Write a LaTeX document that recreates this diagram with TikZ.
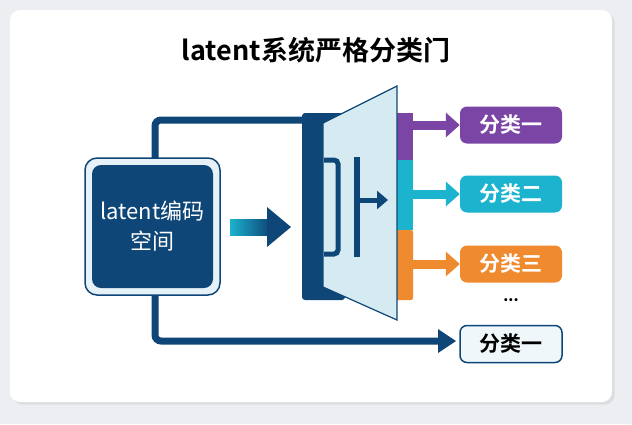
\documentclass[tikz,border=0pt]{standalone}
\usepackage{fontspec}
\setmainfont{Noto Sans CJK SC}
\newfontfamily\cjkbold{Noto Sans CJK SC Bold}
\usetikzlibrary{arrows.meta,shadows}
\definecolor{navy}{HTML}{0E4677}
\definecolor{pane}{HTML}{D6EAF2}
\definecolor{purp}{HTML}{7B45A6}
\definecolor{cyanc}{HTML}{1BB3CE}
\definecolor{orng}{HTML}{F08A2E}
\definecolor{bggray}{HTML}{ECEEF1}
\begin{document}
\begin{tikzpicture}[x=1pt,y=-1pt,
    cls/.style={rounded corners=7pt, minimum width=102pt, minimum height=37pt,
      inner sep=0pt, font=\cjkbold\fontsize{21}{21}\selectfont, text=white},
    link/.style={line width=9pt, -{Triangle[length=14pt,width=24pt]}}]
    \fill[bggray] (0,0) rectangle (632,424);
    \fill[white, drop shadow={opacity=0.15}, rounded corners=10pt] (10,10) rectangle (612,402);
    \node (title) at (316,50) {\cjkbold\fontsize{27}{27}\selectfont latent系统严格分类门};

    % encoder box
    \draw[navy, line width=7pt, rounded corners=6pt] (155,160) -- (155,120) -- (330,120);
    \draw[navy, line width=7pt, rounded corners=6pt] (155,290) -- (155,341) -- (440,341);
    \fill[navy] (438,329) -- (456,341) -- (438,353) -- cycle;
    \node[draw=navy, line width=1.5pt, fill=pane!60, rounded corners=12pt,
      minimum width=135pt, minimum height=137pt] (space) at (152.5,226.5) {};
    \node[fill=navy, rounded corners=9pt, minimum width=121pt, minimum height=123pt,
      text=white, align=center, font=\fontsize{22}{30}\selectfont] (code) at (space) {latent编码\\空间};

    % feed arrow
    \shade[left color=cyanc, right color=navy] (230,219) rectangle (270,235);
    \fill[navy] (267,207) -- (291,227) -- (267,247) -- cycle;

    % gate frame and colour strip
    \fill[navy, rounded corners=3pt] (302,113) rectangle (345,300);
    \fill[purp] (395,113) rectangle (413,160);
    \fill[cyanc] (395,160) rectangle (413,230);
    \fill[orng, rounded corners=2pt] (395,230) rectangle (413,300);
    \draw[navy, line width=1.2pt, fill=pane] (323,123) -- (397,86) -- (397,320) -- (323,287) -- cycle;
    \draw[navy, line width=5pt, rounded corners=4pt] (324,160) -- (338,160) -- (338,254) -- (324,254);
    \draw[navy, line width=6pt] (357,157) -- (357,257);
    \draw[navy, line width=5pt, -{Triangle[length=11pt,width=18pt]}] (357,200) -- (388,200);

    % classes
    \node[cls, fill=purp] (c1) at (511,125) {分类一};
    \node[cls, fill=cyanc] (c2) at (511,194) {分类二};
    \node[cls, fill=orng] (c3) at (511,264) {分类三};
    \node[font=\bfseries\Large] (dots) at (511,300) {...};
    \node[cls, fill=pane!40, draw=navy, line width=1.5pt, text=black] (c4) at (511,344) {分类一};
    \draw[link, purp] (408,125) -- (c1.west);
    \draw[link, cyanc] (408,194) -- (c2.west);
    \draw[link, orng] (408,264) -- (c3.west);
\end{tikzpicture}
\end{document}
